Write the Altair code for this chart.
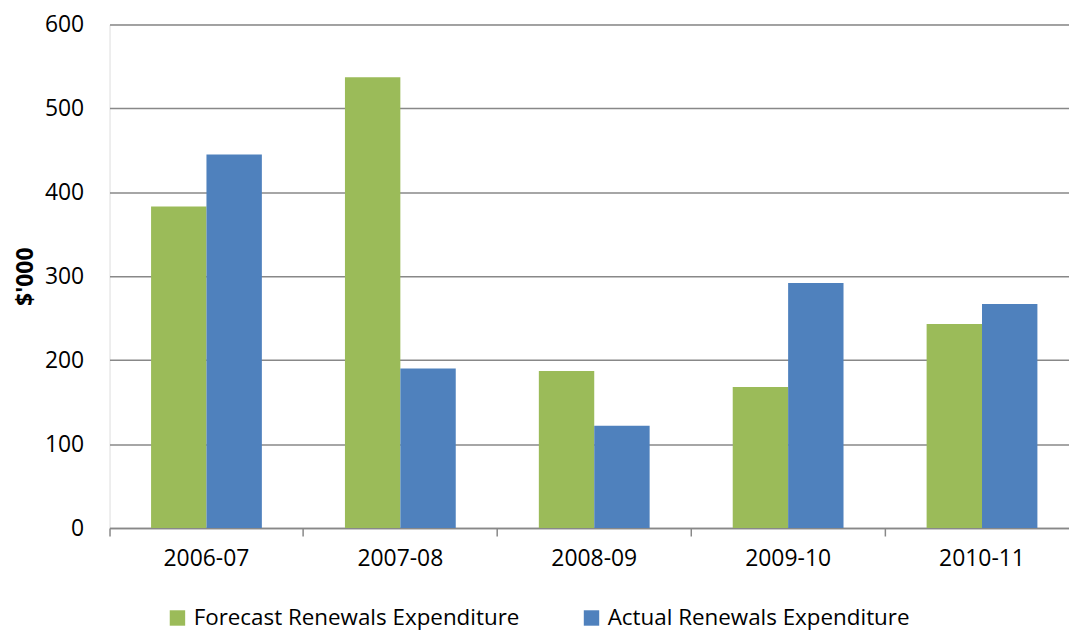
import altair as alt
import pandas as pd

years = ["2006-07", "2007-08", "2008-09", "2009-10", "2010-11"]
forecast = [383, 537, 187, 168, 243]
actual = [445, 190, 122, 292, 267]
series = ["Forecast Renewals Expenditure", "Actual Renewals Expenditure"]
colors = ["#9BBB59", "#4F81BD"]

rows = []
for i, y in enumerate(years):
    rows.append({"year": y, "series": series[0], "value": forecast[i]})
    rows.append({"year": y, "series": series[1], "value": actual[i]})
df = pd.DataFrame(rows)

FONT = "Open Sans"

chart = alt.Chart(df).mark_bar().encode(
    x=alt.X("year:N", sort=years, title=None,
            scale=alt.Scale(paddingInner=0, paddingOuter=0, range=[0, 974]),
            axis=alt.Axis(labelAngle=0, bandPosition=0, tickSize=8, tickColor="#888888",
                          domainColor="#888888", domainWidth=1.5, tickWidth=1.5,
                          labelPadding=12, labelFontSize=23, labelFont=FONT,
                          labelColor="#000000", labelBound=False, labelFlush=False,
                          grid=False)),
    xOffset=alt.XOffset("series:N", sort=series,
                        scale=alt.Scale(paddingInner=0, paddingOuter=0.75)),
    y=alt.Y("value:Q", title="$'000",
            scale=alt.Scale(domain=[0, 600]),
            axis=alt.Axis(values=[0, 100, 200, 300, 400, 500, 600], ticks=False, domain=False,
                          gridColor="#888888", gridWidth=1.5, labelPadding=26,
                          labelFontSize=23, labelFont=FONT, labelColor="#000000",
                          titleFont=FONT, titleFontSize=23, titleFontWeight="bold",
                          titleColor="#000000", titlePadding=7)),
    color=alt.Color("series:N", sort=series, title=None,
                    scale=alt.Scale(domain=series, range=colors),
                    legend=alt.Legend(orient="none", legendX=57, legendY=585,
                                      direction="horizontal", symbolType="square",
                                      symbolSize=240, symbolStrokeWidth=0,
                                      labelFont=FONT, labelFontSize=22.5, labelColor="#000000",
                                      labelLimit=0, columnPadding=60, labelOffset=5)),
).properties(
    width=964, height=506,
    autosize=alt.AutoSizeParams(type="none"),
    padding={"left": 102, "top": 15, "right": 0, "bottom": 110},
).configure_view(stroke=None).configure(background="white")

chart.save("out.html", embed_options={"renderer": "svg", "actions": False})
